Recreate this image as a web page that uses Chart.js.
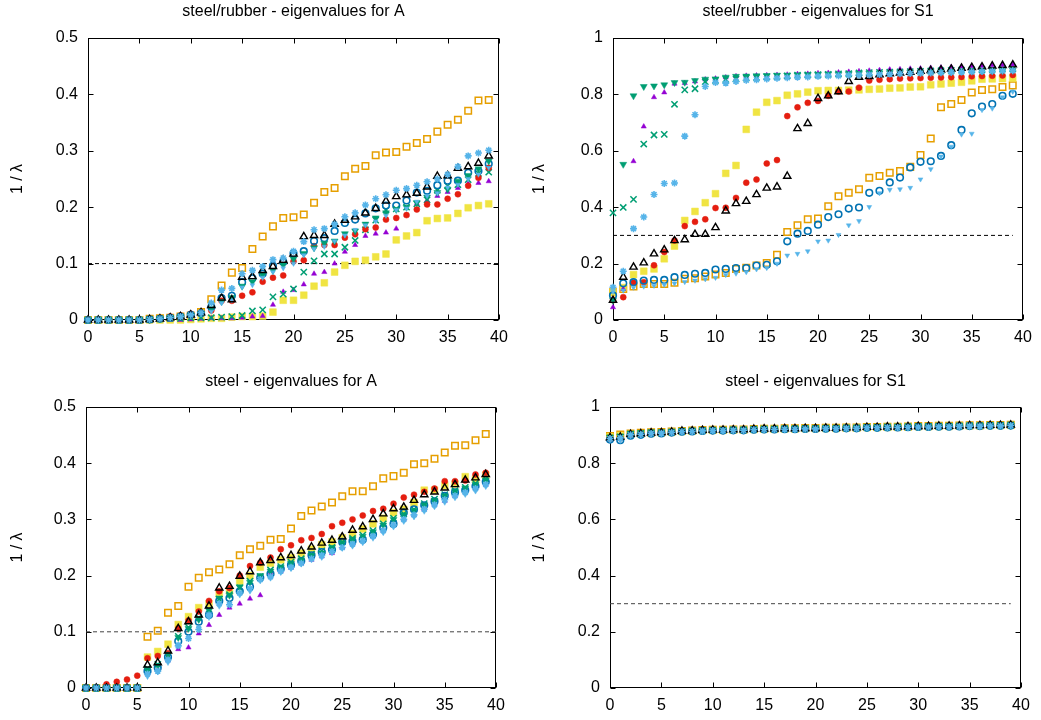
<!DOCTYPE html>
<html><head><meta charset="utf-8">
<script src="https://cdn.jsdelivr.net/npm/chart.js@4.4.0/dist/chart.umd.min.js"></script>
<style>
html,body{margin:0;padding:0;background:#fff;}
body{width:1041px;height:720px;position:relative;overflow:hidden;}
.p{position:absolute;}
</style></head><body>
<div class="p" style="left:0px;top:0px;width:520px;height:350px"><canvas id="c0"></canvas></div>
<div class="p" style="left:520px;top:0px;width:521px;height:350px"><canvas id="c1"></canvas></div>
<div class="p" style="left:0px;top:370px;width:520px;height:350px"><canvas id="c2"></canvas></div>
<div class="p" style="left:520px;top:370px;width:521px;height:350px"><canvas id="c3"></canvas></div>
<script>
// ---------- categories / ticks ----------
const idx = [0,1,2,3,4,5,6,7,8,9,10,11,12,13,14,15,16,17,18,19,20,21,22,23,24,25,26,27,28,29,30,31,32,33,34,35,36,37,38,39];
const xTickVals = [0,5,10,15,20,25,30,35,40];
const xTickLabels = ['0','5','10','15','20','25','30','35','40'];
const yTickValsA = [0,0.1,0.2,0.3,0.4,0.5];
const yTickLabelsA = ['0','0.1','0.2','0.3','0.4','0.5'];
const yTickValsS = [0,0.2,0.4,0.6,0.8,1];
const yTickLabelsS = ['0','0.2','0.4','0.6','0.8','1'];
const titles = ['steel/rubber - eigenvalues for A','steel/rubber - eigenvalues for S1','steel - eigenvalues for A','steel - eigenvalues for S1'];
const yTitle = '1 / \u03bb';
const thresholdA = 0.1;
const thresholdS = 0.3;

// ---------- steel/rubber, A ----------
const tlOrange = [0,0,0,0,0,0,0.002,0.003,0.004,0.006,0.008,0.014,0.037,0.061,0.084,0.092,0.126,0.148,0.166,0.181,0.182,0.187,0.208,0.227,0.234,0.255,0.268,0.273,0.292,0.297,0.298,0.307,0.314,0.321,0.334,0.346,0.355,0.371,0.389,0.390];
const tlYellow = [0,0,0,0,0,0,0,0,0,0,0.001,0.002,0.003,0.003,0.005,0.006,0.006,0.007,0.014,0.035,0.035,0.044,0.06,0.066,0.085,0.097,0.104,0.106,0.112,0.117,0.142,0.149,0.155,0.176,0.180,0.181,0.189,0.199,0.203,0.206];
const tlPurple = [0,0,0,0,0,0,0,0,0,0,0.001,0.002,0.003,0.003,0.003,0.004,0.006,0.007,0.027,0.05,0.053,0.063,0.082,0.085,0.1,0.121,0.133,0.149,0.153,0.155,0.162,0.186,0.206,0.212,0.22,0.227,0.234,0.242,0.243,0.246];
const tlGreen = [0,0,0,0,0,0,0.001,0.002,0.003,0.003,0.004,0.004,0.004,0.005,0.006,0.008,0.016,0.018,0.041,0.046,0.055,0.085,0.105,0.117,0.117,0.129,0.141,0.16,0.177,0.195,0.197,0.2,0.206,0.213,0.23,0.238,0.24,0.249,0.26,0.262];
const tlRed = [0,0,0,0,0,0,0.001,0.003,0.006,0.008,0.011,0.012,0.017,0.034,0.034,0.043,0.049,0.068,0.075,0.079,0.104,0.106,0.131,0.133,0.133,0.146,0.152,0.161,0.164,0.178,0.181,0.186,0.196,0.205,0.205,0.215,0.223,0.238,0.252,0.27];
const tlBlack = [0,0,0,0,0,0,0.001,0.002,0.004,0.006,0.009,0.013,0.026,0.039,0.036,0.076,0.077,0.088,0.095,0.106,0.117,0.148,0.15,0.15,0.17,0.177,0.183,0.19,0.198,0.211,0.219,0.222,0.225,0.236,0.255,0.256,0.269,0.272,0.278,0.291];
const tlStar = [0,0,0,0,0,0,0.001,0.002,0.004,0.006,0.009,0.013,0.03,0.053,0.056,0.082,0.088,0.095,0.107,0.11,0.122,0.139,0.16,0.162,0.17,0.183,0.19,0.204,0.215,0.222,0.23,0.233,0.239,0.245,0.25,0.258,0.272,0.291,0.296,0.301];
const tlBlue = [0,0,0,0,0,0,0.001,0.002,0.004,0.006,0.009,0.012,0.023,0.039,0.043,0.067,0.074,0.082,0.096,0.103,0.118,0.122,0.14,0.145,0.158,0.172,0.178,0.189,0.198,0.203,0.203,0.212,0.226,0.229,0.239,0.247,0.247,0.261,0.264,0.277];
const tlTeal = [0,0,0,0,0,0,0.001,0.002,0.004,0.006,0.008,0.011,0.02,0.033,0.04,0.06,0.068,0.08,0.088,0.098,0.108,0.118,0.128,0.136,0.14,0.153,0.158,0.17,0.181,0.19,0.196,0.2,0.208,0.218,0.226,0.232,0.246,0.256,0.268,0.282];
const tlSkyTri = [0,0,0,0,0,0,0.001,0.002,0.003,0.005,0.007,0.01,0.015,0.03,0.035,0.058,0.062,0.075,0.085,0.092,0.1,0.115,0.126,0.13,0.14,0.15,0.16,0.168,0.175,0.185,0.195,0.198,0.21,0.22,0.225,0.235,0.24,0.25,0.258,0.27];

// ---------- steel/rubber, S1 ----------
const trPurple = [0.045,0.11,0.563,0.686,0.79,0.807,0.838,0.84,0.846,0.853,0.856,0.86,0.864,0.866,0.867,0.868,0.869,0.87,0.872,0.873,0.875,0.876,0.878,0.88,0.882,0.884,0.886,0.888,0.889,0.891,0.892,0.894,0.895,0.897,0.898,0.9,0.901,0.903,0.904,0.906];
const trTeal = [0.07,0.552,0.795,0.828,0.83,0.834,0.842,0.843,0.849,0.854,0.855,0.861,0.864,0.865,0.866,0.867,0.868,0.868,0.869,0.87,0.871,0.872,0.872,0.873,0.874,0.875,0.876,0.877,0.877,0.878,0.879,0.88,0.88,0.881,0.882,0.883,0.883,0.884,0.885,0.886];
const trGreen = [0.38,0.399,0.428,0.624,0.656,0.658,0.765,0.816,0.82,0.845,0.85,0.853,0.855,0.858,0.86,0.862,0.864,0.866,0.868,0.869,0.87,0.871,0.873,0.874,0.876,0.877,0.878,0.879,0.88,0.881,0.882,0.883,0.884,0.885,0.886,0.887,0.888,0.889,0.89,0.891];
const trStar = [0.116,0.173,0.324,0.365,0.445,0.484,0.486,0.652,0.728,0.828,0.842,0.84,0.846,0.85,0.852,0.855,0.857,0.859,0.861,0.862,0.864,0.865,0.866,0.868,0.869,0.87,0.871,0.872,0.873,0.874,0.875,0.876,0.877,0.878,0.879,0.88,0.881,0.882,0.883,0.884];
const trYellow = [0.098,0.115,0.161,0.173,0.181,0.217,0.262,0.353,0.385,0.416,0.448,0.52,0.548,0.676,0.737,0.772,0.778,0.797,0.802,0.808,0.813,0.814,0.814,0.815,0.816,0.818,0.819,0.822,0.823,0.826,0.827,0.834,0.837,0.84,0.843,0.848,0.854,0.855,0.856,0.858];
const trRed = [0.07,0.081,0.132,0.134,0.194,0.241,0.282,0.333,0.348,0.357,0.397,0.398,0.433,0.487,0.498,0.555,0.567,0.723,0.754,0.77,0.777,0.795,0.81,0.81,0.824,0.849,0.852,0.854,0.856,0.857,0.858,0.859,0.86,0.861,0.862,0.864,0.865,0.866,0.867,0.869];
const trBlack = [0.07,0.152,0.188,0.203,0.235,0.249,0.282,0.285,0.304,0.304,0.328,0.387,0.413,0.421,0.445,0.468,0.472,0.51,0.679,0.697,0.786,0.795,0.81,0.846,0.861,0.864,0.87,0.873,0.876,0.879,0.882,0.885,0.887,0.89,0.893,0.896,0.898,0.901,0.903,0.905];
const trBlue = [0.087,0.13,0.134,0.14,0.142,0.142,0.152,0.16,0.164,0.167,0.179,0.181,0.184,0.184,0.193,0.196,0.208,0.279,0.306,0.316,0.338,0.365,0.375,0.395,0.399,0.451,0.458,0.488,0.505,0.541,0.561,0.563,0.582,0.62,0.674,0.733,0.757,0.766,0.795,0.802];
const trOrange = [0.098,0.11,0.119,0.128,0.128,0.128,0.132,0.146,0.148,0.154,0.161,0.167,0.181,0.185,0.193,0.202,0.231,0.312,0.336,0.357,0.36,0.403,0.439,0.451,0.464,0.504,0.511,0.522,0.528,0.543,0.585,0.644,0.754,0.766,0.78,0.807,0.816,0.818,0.826,0.832];
const trSkyTri = [0.1,0.105,0.115,0.119,0.122,0.125,0.13,0.135,0.14,0.145,0.15,0.16,0.165,0.17,0.18,0.185,0.2,0.229,0.235,0.244,0.279,0.282,0.302,0.336,0.351,0.401,0.45,0.462,0.464,0.469,0.499,0.535,0.58,0.615,0.658,0.661,0.745,0.75,0.79,0.81];

// ---------- steel, A ----------
const blOrange = [0,0,0,0,0,0,0.091,0.102,0.134,0.146,0.18,0.196,0.206,0.211,0.22,0.236,0.247,0.253,0.264,0.265,0.284,0.306,0.316,0.323,0.33,0.341,0.35,0.35,0.359,0.373,0.377,0.383,0.398,0.40,0.408,0.419,0.431,0.432,0.441,0.452];
const blRed = [0,0.001,0.0065,0.011,0.015,0.022,0.053,0.057,0.062,0.106,0.12,0.136,0.155,0.172,0.178,0.2,0.217,0.223,0.232,0.247,0.254,0.263,0.267,0.274,0.288,0.294,0.3,0.307,0.315,0.319,0.328,0.339,0.344,0.349,0.355,0.368,0.368,0.369,0.38,0.383];
const blBlack = [0,0,0,0,0,0,0.041,0.045,0.066,0.106,0.118,0.13,0.146,0.178,0.181,0.199,0.207,0.223,0.227,0.232,0.236,0.244,0.251,0.258,0.263,0.269,0.281,0.287,0.3,0.31,0.319,0.322,0.334,0.344,0.349,0.356,0.362,0.37,0.374,0.38];
const blYellow = [0,0,0,0,0,0,0.055,0.065,0.078,0.113,0.127,0.143,0.15,0.167,0.173,0.19,0.2,0.215,0.222,0.228,0.232,0.24,0.247,0.255,0.26,0.267,0.275,0.283,0.292,0.302,0.312,0.318,0.33,0.352,0.352,0.36,0.363,0.376,0.372,0.379];
const blBlue = [0,0,0,0,0,0,0.03,0.036,0.055,0.083,0.1,0.118,0.13,0.155,0.16,0.172,0.18,0.196,0.203,0.212,0.219,0.226,0.236,0.242,0.246,0.26,0.261,0.264,0.273,0.285,0.292,0.312,0.318,0.325,0.332,0.342,0.348,0.352,0.359,0.367];
const blTeal = [0,0,0,0,0,0,0.033,0.04,0.06,0.09,0.106,0.122,0.138,0.16,0.165,0.18,0.188,0.2,0.208,0.215,0.222,0.228,0.236,0.24,0.25,0.258,0.265,0.27,0.278,0.29,0.3,0.308,0.316,0.326,0.334,0.342,0.35,0.356,0.362,0.37];
const blGreen = [0,0,0,0,0,0,0.035,0.042,0.058,0.092,0.108,0.125,0.14,0.158,0.166,0.178,0.19,0.198,0.21,0.216,0.224,0.23,0.238,0.244,0.25,0.26,0.266,0.272,0.28,0.292,0.302,0.31,0.318,0.328,0.336,0.344,0.351,0.357,0.364,0.372];
const blStar = [0,0,0,0,0,0,0.025,0.03,0.05,0.075,0.088,0.104,0.13,0.15,0.148,0.169,0.177,0.193,0.198,0.208,0.215,0.222,0.23,0.236,0.243,0.25,0.256,0.262,0.27,0.28,0.29,0.3,0.308,0.318,0.326,0.335,0.342,0.348,0.355,0.362];
const blSkyTri = [0,0,0,0,0,0,0.02,0.028,0.045,0.078,0.09,0.108,0.125,0.145,0.15,0.165,0.172,0.19,0.195,0.205,0.212,0.22,0.228,0.232,0.24,0.248,0.252,0.258,0.266,0.276,0.286,0.296,0.304,0.314,0.322,0.33,0.338,0.344,0.35,0.358];
const blPurple = [0,0,0,0,0,0,0.026,0.032,0.049,0.069,0.072,0.097,0.112,0.13,0.143,0.15,0.159,0.165,0.204,0.208,0.214,0.222,0.228,0.234,0.24,0.25,0.256,0.262,0.27,0.28,0.29,0.3,0.308,0.318,0.326,0.333,0.342,0.35,0.356,0.362];

// ---------- steel, S1 ----------
const brPurple = [0.889,0.892,0.902,0.904,0.907,0.908,0.910,0.913,0.914,0.916,0.917,0.917,0.918,0.918,0.920,0.921,0.921,0.922,0.922,0.923,0.923,0.924,0.924,0.925,0.925,0.927,0.927,0.928,0.928,0.929,0.930,0.930,0.931,0.931,0.932,0.933,0.933,0.934,0.934,0.935];
const brGreen = [0.890,0.894,0.904,0.906,0.909,0.909,0.911,0.914,0.915,0.917,0.918,0.918,0.919,0.919,0.921,0.922,0.922,0.923,0.923,0.924,0.924,0.925,0.925,0.926,0.926,0.928,0.928,0.929,0.929,0.930,0.931,0.931,0.932,0.932,0.933,0.934,0.934,0.935,0.935,0.936];
const brStar = [0.888,0.890,0.901,0.903,0.906,0.907,0.909,0.912,0.913,0.915,0.916,0.916,0.917,0.917,0.919,0.920,0.920,0.921,0.921,0.922,0.922,0.923,0.923,0.924,0.924,0.926,0.926,0.927,0.927,0.928,0.929,0.929,0.930,0.930,0.931,0.932,0.932,0.933,0.933,0.934];
const brOrange = [0.897,0.902,0.906,0.908,0.910,0.911,0.913,0.915,0.916,0.918,0.919,0.919,0.920,0.920,0.922,0.923,0.923,0.924,0.924,0.925,0.925,0.926,0.926,0.927,0.927,0.929,0.929,0.930,0.930,0.931,0.932,0.932,0.933,0.933,0.934,0.935,0.935,0.936,0.936,0.937];
const brYellow = [0.894,0.898,0.902,0.904,0.906,0.907,0.910,0.913,0.914,0.916,0.917,0.917,0.918,0.918,0.920,0.921,0.921,0.922,0.922,0.923,0.923,0.924,0.924,0.925,0.925,0.927,0.927,0.928,0.928,0.929,0.930,0.930,0.931,0.931,0.932,0.933,0.933,0.934,0.934,0.935];
const brBlue = [0.884,0.882,0.898,0.901,0.905,0.906,0.909,0.912,0.913,0.915,0.916,0.916,0.917,0.917,0.919,0.920,0.920,0.921,0.921,0.922,0.922,0.923,0.923,0.924,0.924,0.926,0.926,0.927,0.927,0.928,0.929,0.929,0.930,0.930,0.931,0.932,0.932,0.933,0.933,0.934];
const brSkyTri = [0.881,0.880,0.896,0.899,0.903,0.904,0.907,0.910,0.911,0.913,0.914,0.914,0.915,0.915,0.917,0.918,0.918,0.919,0.919,0.920,0.920,0.921,0.921,0.922,0.922,0.924,0.924,0.925,0.925,0.926,0.927,0.927,0.928,0.928,0.929,0.930,0.930,0.931,0.931,0.932];
const brTeal = [0.892,0.896,0.906,0.908,0.911,0.911,0.912,0.914,0.915,0.917,0.918,0.918,0.919,0.919,0.921,0.921,0.922,0.922,0.923,0.923,0.924,0.924,0.925,0.925,0.926,0.927,0.928,0.928,0.929,0.929,0.930,0.931,0.931,0.932,0.932,0.933,0.934,0.934,0.935,0.935];
const brRed = [0.887,0.889,0.900,0.902,0.905,0.906,0.908,0.911,0.912,0.914,0.915,0.915,0.916,0.916,0.918,0.919,0.919,0.920,0.920,0.921,0.921,0.922,0.922,0.923,0.923,0.925,0.925,0.926,0.926,0.927,0.928,0.928,0.929,0.929,0.930,0.931,0.931,0.932,0.932,0.933];
const brBlack = [0.891,0.893,0.903,0.905,0.908,0.909,0.911,0.914,0.915,0.917,0.918,0.918,0.919,0.919,0.921,0.922,0.922,0.923,0.923,0.924,0.924,0.925,0.925,0.926,0.926,0.928,0.928,0.929,0.929,0.930,0.931,0.931,0.932,0.932,0.933,0.934,0.934,0.935,0.935,0.936];

// ---------- styles ----------
const FONT = "'Liberation Sans', Arial, Helvetica, sans-serif";
const TRANSPARENT = 'rgba(0,0,0,0)';
const styles = {
  star:   {pointStyle:'star',     r:3.5, c:'#56B4E9', fill:false, bw:1.6, rot:0},
  black:  {pointStyle:'triangle', r:4.2, c:'#000000', fill:false, bw:1.4, rot:0},
  skytri: {pointStyle:'triangle', r:2.8, c:'#56B4E9', fill:true,  bw:0.5, rot:180},
  teal:   {pointStyle:'triangle', r:4.0, c:'#009E73', fill:true,  bw:0.5, rot:180},
  blue:   {pointStyle:'circle',   r:3.3, c:'#0072B2', fill:false, bw:1.6, rot:0},
  red:    {pointStyle:'circle',   r:3.0, c:'#E51E10', fill:true,  bw:0.5, rot:0},
  green:  {pointStyle:'crossRot', r:4.4, c:'#009E73', fill:false, bw:1.5, rot:0},
  purple: {pointStyle:'triangle', r:3.0, c:'#9400D3', fill:true,  bw:0.5, rot:0},
  yellow: {pointStyle:'rect',     r:4.8, c:'#F0E442', fill:true,  bw:0.5, rot:0},
  orange: {pointStyle:'rect',     r:4.6, c:'#E69F00', fill:false, bw:1.5, rot:0}
};
const drawOrder = ['star','black','skytri','teal','blue','red','green','purple','yellow','orange'];

const panels = [
  {id:'c0', title:titles[0], yv:yTickValsA, yl:yTickLabelsA, ymax:0.5, thr:thresholdA, thrEnd:40, dash:'#000',
   box:{left:0,top:0,w:520,h:350}, area:{L:88,R:499,T:38,B:320}, titleY:12, yTitleX:18,
   series:{orange:tlOrange,yellow:tlYellow,purple:tlPurple,green:tlGreen,red:tlRed,black:tlBlack,star:tlStar,blue:tlBlue,teal:tlTeal,skytri:tlSkyTri}},
  {id:'c1', title:titles[1], yv:yTickValsS, yl:yTickLabelsS, ymax:1, thr:thresholdS, thrEnd:39, dash:'#000',
   box:{left:520,top:0,w:521,h:350}, area:{L:613,R:1023,T:38,B:320}, titleY:12, yTitleX:540,
   series:{orange:trOrange,yellow:trYellow,purple:trPurple,green:trGreen,red:trRed,black:trBlack,star:trStar,blue:trBlue,teal:trTeal,skytri:trSkyTri}},
  {id:'c2', title:titles[2], yv:yTickValsA, yl:yTickLabelsA, ymax:0.5, thr:thresholdA, thrEnd:40, dash:'#444',
   box:{left:0,top:370,w:520,h:350}, area:{L:86,R:496,T:407,B:688}, titleY:382, yTitleX:18,
   series:{orange:blOrange,yellow:blYellow,purple:blPurple,green:blGreen,red:blRed,black:blBlack,star:blStar,blue:blBlue,teal:blTeal,skytri:blSkyTri}},
  {id:'c3', title:titles[3], yv:yTickValsS, yl:yTickLabelsS, ymax:1, thr:thresholdS, thrEnd:39, dash:'#444',
   box:{left:520,top:370,w:521,h:350}, area:{L:610,R:1021,T:407,B:688}, titleY:382, yTitleX:540,
   series:{orange:brOrange,yellow:brYellow,purple:brPurple,green:brGreen,red:brRed,black:brBlack,star:brStar,blue:brBlue,teal:brTeal,skytri:brSkyTri}}
];

const framePlugin = {
  id:'frameTicks',
  beforeDatasetsDraw(chart){
    const {ctx, chartArea:a, scales} = chart;
    const x = scales.x, y = scales.y;
    ctx.save();
    ctx.strokeStyle = '#000';
    ctx.lineWidth = 1;
    const L = Math.round(a.left)+0.5, R = Math.round(a.right)-0.5, T = Math.round(a.top)+0.5, B = Math.round(a.bottom)-0.5;
    ctx.beginPath();
    const tl = 5;
    x.ticks.forEach(t => {
      const px = Math.round(x.getPixelForValue(t.value))+0.5;
      ctx.moveTo(px, B); ctx.lineTo(px, B - tl);
      ctx.moveTo(px, T); ctx.lineTo(px, T + tl);
    });
    y.ticks.forEach(t => {
      const py = Math.round(y.getPixelForValue(t.value))+0.5;
      ctx.moveTo(L, py); ctx.lineTo(L + tl, py);
      ctx.moveTo(R, py); ctx.lineTo(R - tl, py);
    });
    ctx.stroke();
    ctx.strokeRect(L, T, R - L, B - T);
    ctx.restore();
  }
};

panels.forEach(p => {
  const fs = 16, lh = fs*1.2;
  const titleBlock = p.area.T - p.box.top;
  const padTop = (p.titleY - p.box.top) - lh/2;
  const padBottom = titleBlock - padTop - lh;
  const yW = p.area.L - p.box.left;
  const padR = p.box.left + p.box.w - p.area.R;
  const xH = p.box.top + p.box.h - p.area.B;
  const yTitlePad = (p.yTitleX - p.box.left) - lh/2;

  const datasets = drawOrder.map(k => {
    const s = styles[k];
    return {
      label:k,
      data: idx.map((xi,i) => ({x:xi, y:p.series[k][i]})),
      pointStyle:s.pointStyle, pointRadius:s.r, pointHoverRadius:s.r, pointRotation:s.rot,
      borderColor:s.c, backgroundColor: s.fill ? s.c : TRANSPARENT, borderWidth:s.bw,
      showLine:false, clip:false
    };
  });
  datasets.push({
    label:'threshold', type:'line',
    data:[{x:0,y:p.thr},{x:p.thrEnd,y:p.thr}],
    borderColor:p.dash, borderWidth:1, borderDash:[4,3], pointRadius:0, fill:false, showLine:true, clip:false
  });

  new Chart(document.getElementById(p.id), {
    type:'scatter',
    data:{datasets},
    plugins:[framePlugin],
    options:{
      responsive:true, maintainAspectRatio:false, animation:false,
      events:[],
      layout:{padding:{left:0,right:padR,top:0,bottom:0}},
      plugins:{
        legend:{display:false}, tooltip:{enabled:false},
        title:{display:true, text:p.title, fullSize:false, color:'#000',
               font:{family:FONT, size:fs, weight:'normal', lineHeight:1.2},
               padding:{top:padTop, bottom:padBottom}}
      },
      scales:{
        x:{type:'linear', min:0, max:40,
           afterBuildTicks:(s)=>{ s.ticks = xTickVals.map(v=>({value:v})); },
           afterFit:(s)=>{ s.height = xH; },
           grid:{display:false, drawTicks:false}, border:{display:false},
           ticks:{color:'#000', padding:8, autoSkip:false, maxRotation:0, font:{family:FONT,size:fs},
                  callback:(v,i)=>xTickLabels[i]}},
        y:{type:'linear', min:0, max:p.ymax,
           afterBuildTicks:(s)=>{ s.ticks = p.yv.map(v=>({value:v})); },
           afterFit:(s)=>{ s.width = yW; },
           grid:{display:false, drawTicks:false}, border:{display:false},
           title:{display:true, text:yTitle, color:'#000', font:{family:FONT,size:fs}, padding:{top:yTitlePad,bottom:0}},
           ticks:{color:'#000', padding:10, autoSkip:false, font:{family:FONT,size:fs},
                  callback:(v,i)=>p.yl[i]}}
      }
    }
  });
});
</script>
</body></html>
